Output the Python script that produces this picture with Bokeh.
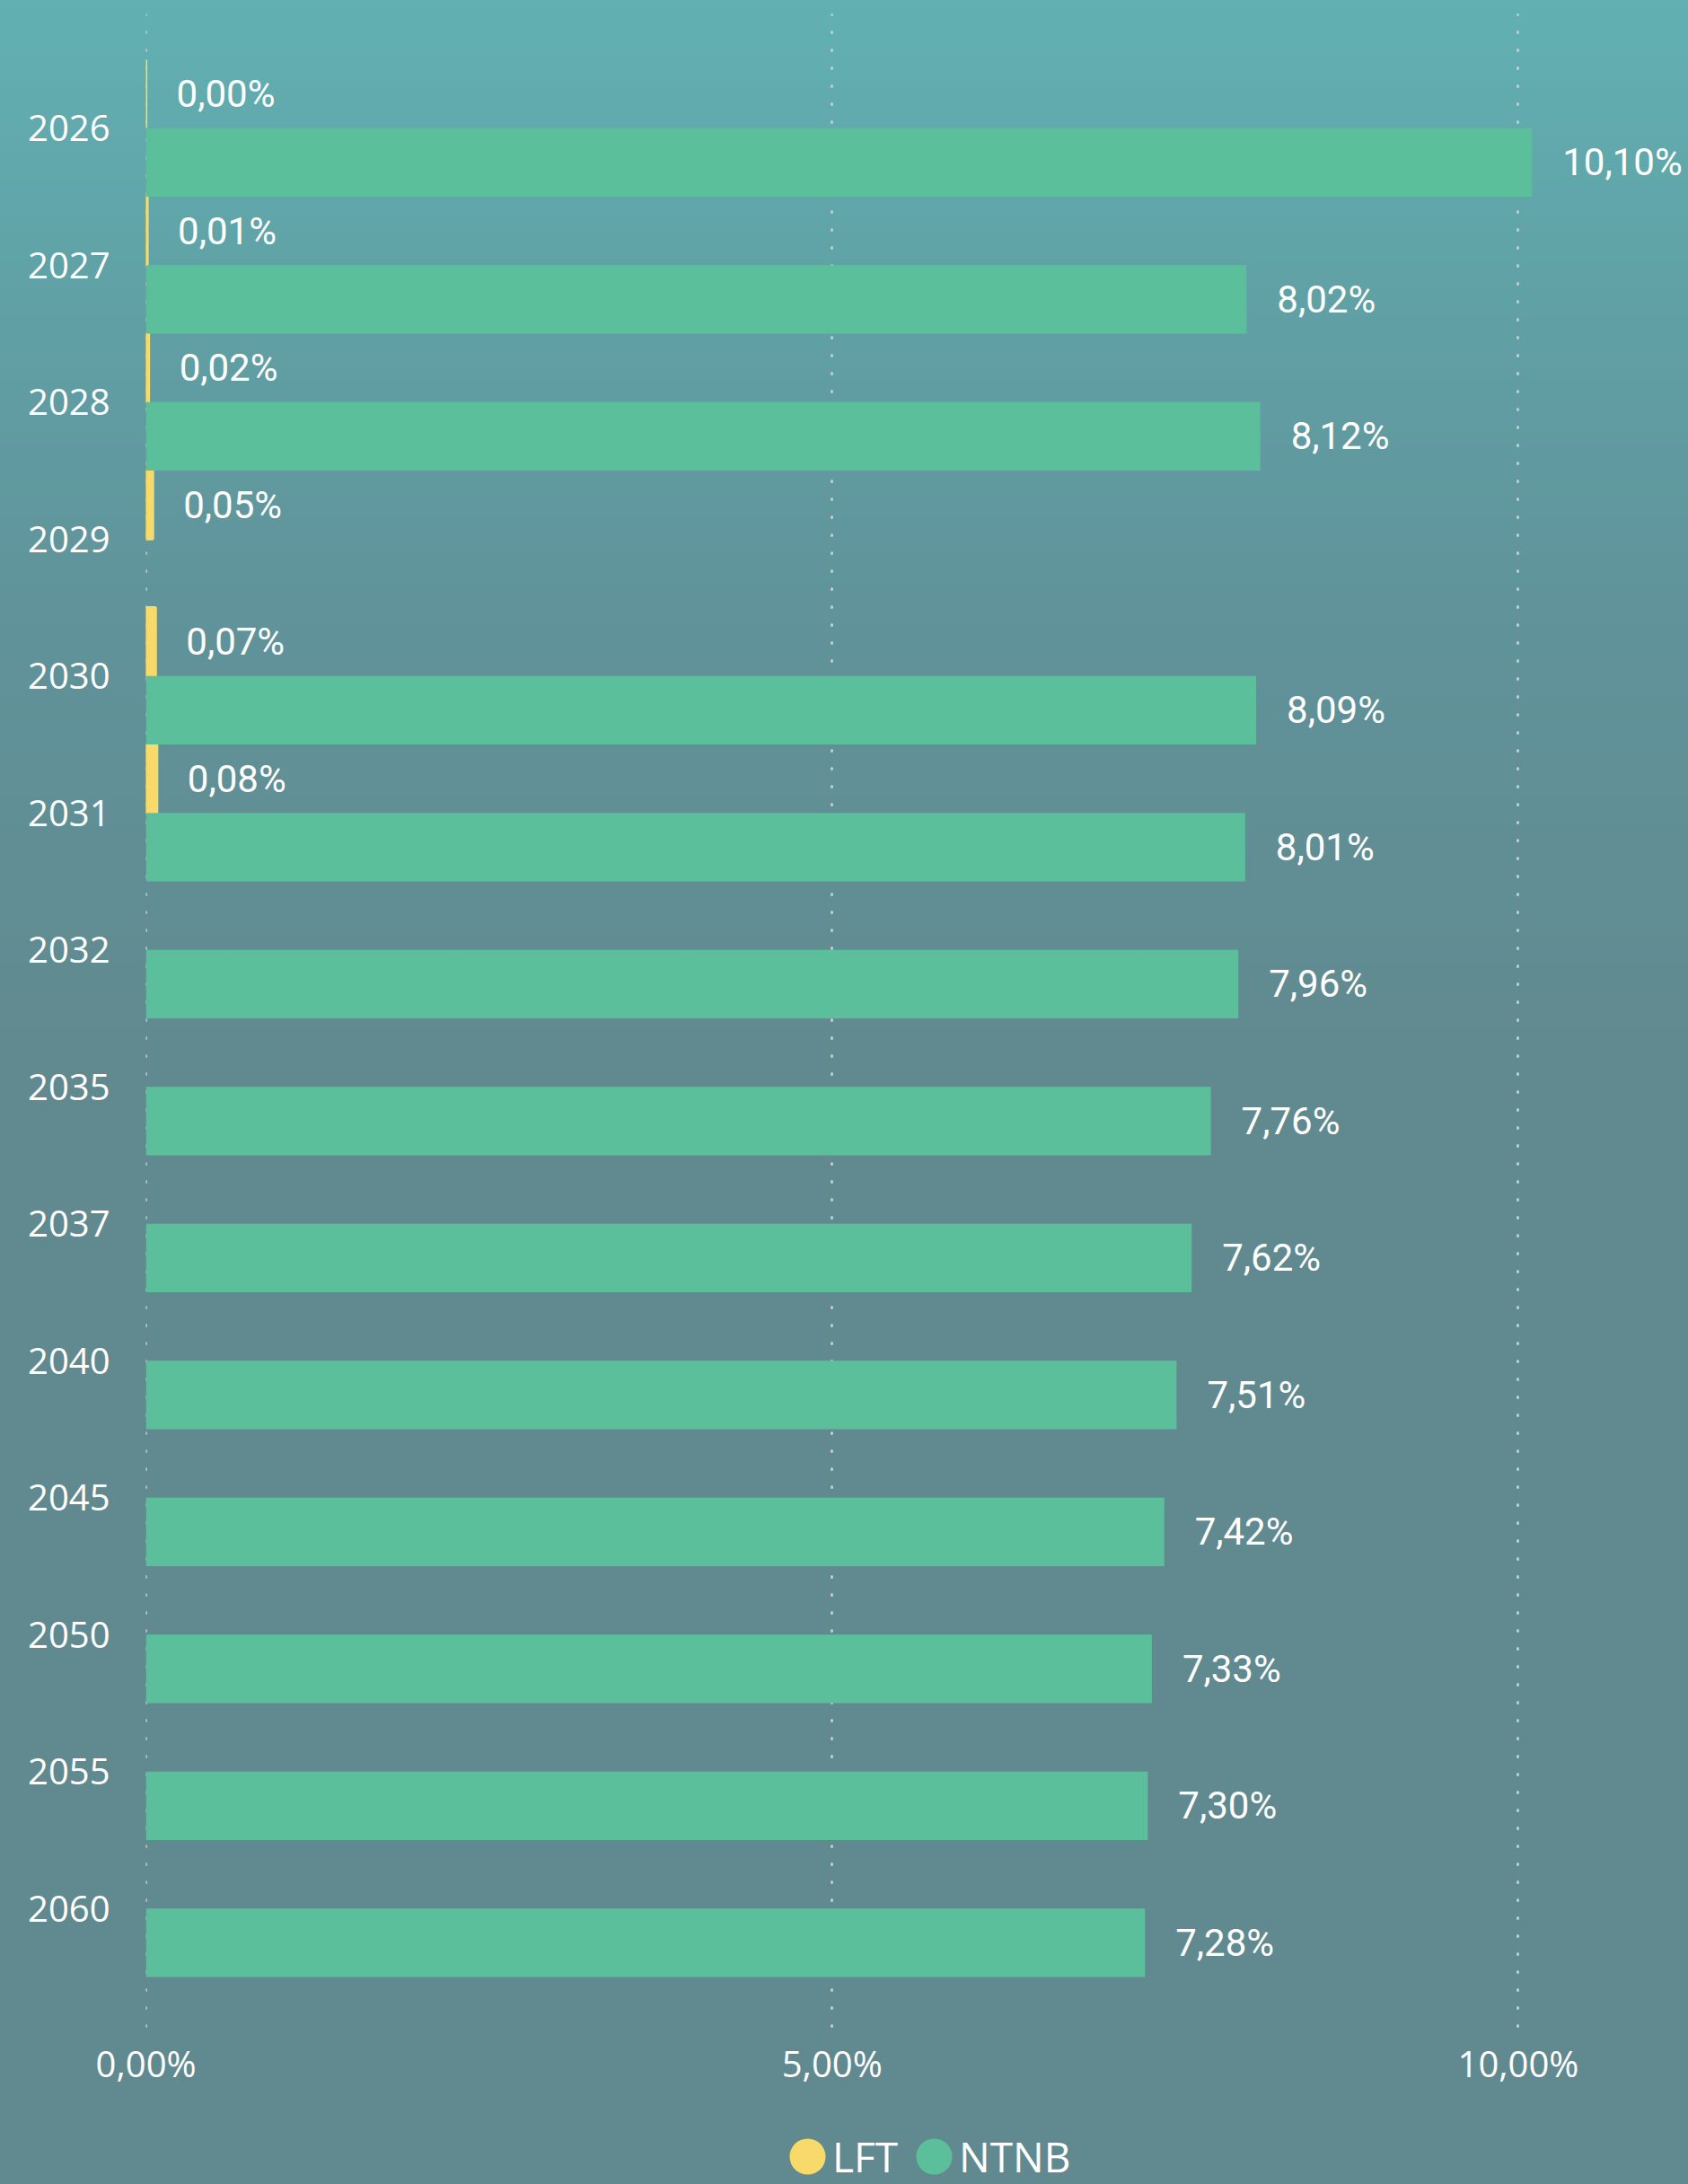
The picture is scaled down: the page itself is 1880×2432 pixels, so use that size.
import numpy as np
from bokeh.plotting import figure
from bokeh.layouts import column
from bokeh.models import Range1d, FixedTicker, ColumnDataSource, Legend, LegendItem
from bokeh.core.properties import value
from bokeh.transform import dodge
from bokeh.embed import file_html
from bokeh.resources import INLINE

# ---- data ----
years = ["2026", "2027", "2028", "2029", "2030", "2031", "2032",
         "2035", "2037", "2040", "2045", "2050", "2055", "2060"]
lft = [0.00, 0.01, 0.02, 0.05, 0.07, 0.08, None,
       None, None, None, None, None, None, None]
ntnb = [10.10, 8.02, 8.12, None, 8.09, 8.01, 7.96,
        7.76, 7.62, 7.51, 7.42, 7.33, 7.30, 7.28]
series_names = ["LFT", "NTNB"]
x_ticks = [0, 5, 10]
x_tick_labels = ["0,00%", "5,00%", "10,00%"]

YELLOW = "#F8DA6A"
GREEN = "#5CBF9B"
WHITE = "#FFFFFF"
AXIS_FONT = "Open Sans"
LABEL_FONT = "Roboto"


def fmt(v):
    return f"{v:.2f}".replace(".", ",") + "%"


def make_source(vals):
    idx = [i for i, v in enumerate(vals) if v is not None]
    return ColumnDataSource(dict(
        idx=idx,
        v=[vals[i] for i in idx],
        label=[fmt(vals[i]) for i in idx],
    ))


src_l = make_source(lft)
src_n = make_source(ntnb)

n = len(years)
W = 1880
H_MAIN = 2350
H_LEG = 82

p = figure(width=W, height=H_MAIN, output_backend="svg", toolbar_location=None,
           x_range=Range1d(-0.0005, 11.24),
           y_range=Range1d(n - 0.5 + 0.387, -0.5 - 0.334),
           min_border_left=162, min_border_right=0,
           min_border_top=15, min_border_bottom=H_MAIN - 2260)

p.background_fill_color = None
p.border_fill_color = None
p.outline_line_color = None

# bars
p.hbar(y=dodge("idx", -0.25, range=p.y_range), left=0, right="v", height=0.5,
       source=src_l, fill_color=YELLOW, line_color=YELLOW, line_width=3)
p.hbar(y=dodge("idx", 0.25, range=p.y_range), left=0, right="v", height=0.5,
       source=src_n, fill_color=GREEN, line_color=None)

# data labels
for src, off in ((src_l, -0.25), (src_n, 0.25)):
    p.text(x="v", y=dodge("idx", off, range=p.y_range), text="label", source=src,
           x_offset=34, text_baseline="middle", text_align="left",
           text_color=WHITE, text_font=value(LABEL_FONT), text_font_size="42px")

# axes
p.xaxis.ticker = FixedTicker(ticks=x_ticks)
p.xaxis.major_label_overrides = dict(zip(x_ticks, x_tick_labels))
p.yaxis.ticker = FixedTicker(ticks=list(range(n)))
p.yaxis.major_label_overrides = {i: y for i, y in enumerate(years)}
for ax in (p.xaxis, p.yaxis):
    ax.axis_line_color = None
    ax.major_tick_line_color = None
    ax.minor_tick_line_color = None
    ax.major_tick_out = 0
    ax.major_tick_in = 0
    ax.major_label_text_color = WHITE
    ax.major_label_text_font = AXIS_FONT
    ax.major_label_text_font_size = "40px"
p.xaxis.major_label_standoff = 9
p.yaxis.major_label_standoff = 40

# grid
p.ygrid.grid_line_color = None
p.xgrid.ticker = FixedTicker(ticks=x_ticks)
p.xgrid.grid_line_color = "#CACACA"
p.xgrid.grid_line_width = 3
p.xgrid.grid_line_dash = "1 19"
p.xgrid.grid_line_cap = "round"

# legend strip (circles)
q = figure(width=W, height=H_LEG, output_backend="svg", toolbar_location=None,
           x_axis_location=None, y_axis_location=None,
           min_border=0, min_border_left=0, min_border_right=0,
           min_border_top=0, min_border_bottom=0)
q.background_fill_color = None
q.border_fill_color = None
q.outline_line_color = None
q.grid.visible = False
r_l = q.ellipse(x=[np.nan], y=[np.nan], width=10, height=10,
                width_units="screen", height_units="screen",
                fill_color=YELLOW, line_color=None)
r_n = q.ellipse(x=[np.nan], y=[np.nan], width=10, height=10,
                width_units="screen", height_units="screen",
                fill_color=GREEN, line_color=None)
legend = Legend(items=[LegendItem(label=series_names[0], renderers=[r_l]),
                       LegendItem(label=series_names[1], renderers=[r_n])],
                location=(712, 0), orientation="horizontal",
                glyph_width=50, glyph_height=50, label_standoff=3, spacing=15,
                padding=0, margin=0,
                label_text_font=AXIS_FONT, label_text_font_size="46px",
                label_text_color=WHITE,
                background_fill_alpha=0, border_line_alpha=0)
q.add_layout(legend)

page = column(p, q, spacing=0)
page.styles = {
    "background": "linear-gradient(to bottom, #62b0b2 0%, #60a3a7 12%, #60939a 28%, #618a90 48%, #608a8f 100%)",
}

open("out.html", "w").write(file_html(page, INLINE))
